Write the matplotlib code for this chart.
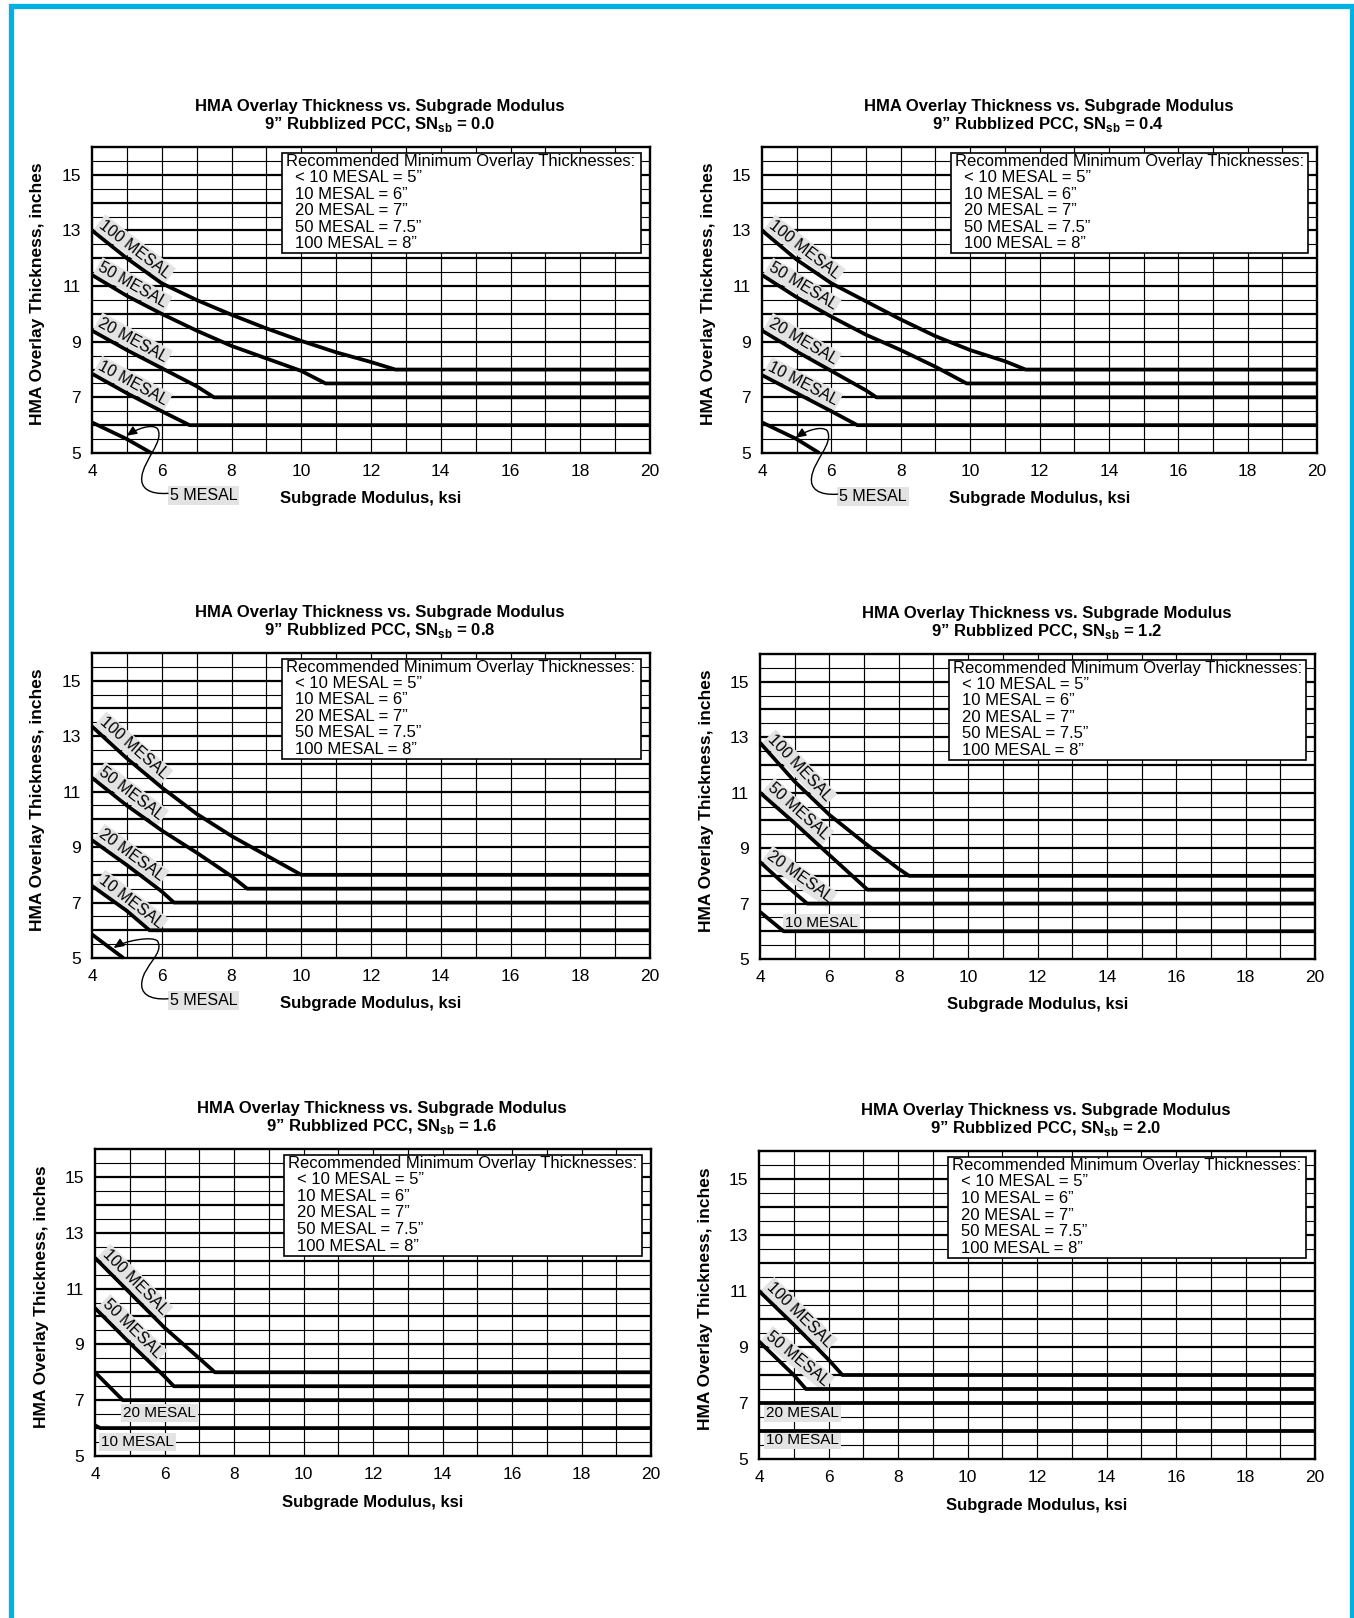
import numpy as np
import matplotlib
matplotlib.use('Agg')
import matplotlib.pyplot as plt
from matplotlib.patches import Rectangle, FancyArrowPatch
from matplotlib.path import Path

plt.rcParams['font.family'] = ['Liberation Sans', 'DejaVu Sans']
plt.rcParams['mathtext.fontset'] = 'custom'
plt.rcParams['mathtext.rm'] = 'Liberation Sans'
plt.rcParams['mathtext.bf'] = 'Liberation Sans:bold'

# ---- data ----
x_ticks = [4, 6, 8, 10, 12, 14, 16, 18, 20]
y_ticks = [5, 7, 9, 11, 13, 15]
sn_values = ['0.0', '0.4', '0.8', '1.2', '1.6', '2.0']

legend_title = 'Recommended Minimum Overlay Thicknesses:'
legend_lines = ['< 10 MESAL = 5\u201d', '10 MESAL = 6\u201d', '20 MESAL = 7\u201d',
                '50 MESAL = 7.5\u201d', '100 MESAL = 8\u201d']

# MESAL level -> (subgrade modulus ksi, overlay thickness in)
curves_00 = {
    100: ([4, 5, 6, 7, 8, 9, 10, 11, 12, 12.7, 20],
          [13.0, 12.0, 11.1, 10.5, 9.97, 9.48, 9.03, 8.62, 8.27, 8.0, 8.0]),
    50: ([4, 5, 6, 7, 8, 9, 10, 10.7, 20],
         [11.4, 10.65, 10.0, 9.4, 8.85, 8.4, 7.95, 7.5, 7.5]),
    20: ([4, 5, 6, 7, 7.5, 20], [9.4, 8.7, 8.05, 7.4, 7.0, 7.0]),
    10: ([4, 5, 6, 6.8, 20], [7.85, 7.15, 6.5, 6.0, 6.0]),
    5: ([4, 5, 5.7], [6.1, 5.5, 5.0]),
}
curves_04 = {
    100: ([4, 5, 6, 7, 8, 9, 10, 11, 11.6, 20],
          [13.0, 11.95, 11.1, 10.45, 9.8, 9.2, 8.7, 8.3, 8.0, 8.0]),
    50: ([4, 5, 6, 7, 8, 9, 9.9, 20], [11.4, 10.6, 9.9, 9.25, 8.7, 8.1, 7.5, 7.5]),
    20: ([4, 5, 6, 7, 7.3, 20], [9.4, 8.65, 7.95, 7.25, 7.0, 7.0]),
    10: ([4, 5, 6, 6.75, 20], [7.8, 7.15, 6.5, 6.0, 6.0]),
    5: ([4, 5, 5.65], [6.1, 5.5, 5.0]),
}
curves_08 = {
    100: ([4, 5, 6, 7, 8, 9, 10, 20], [13.35, 12.2, 11.15, 10.2, 9.4, 8.7, 8.0, 8.0]),
    50: ([4, 5, 6, 7, 8, 8.45, 20], [11.5, 10.5, 9.6, 8.8, 7.95, 7.5, 7.5]),
    20: ([4, 5, 6, 6.35, 20], [9.25, 8.35, 7.4, 7.0, 7.0]),
    10: ([4, 5, 5.65, 20], [7.6, 6.7, 6.0, 6.0]),
    5: ([4, 4.9], [5.85, 5.0]),
}
curves_12 = {
    100: ([4, 5, 6, 7, 8, 8.3, 20], [12.8, 11.4, 10.2, 9.2, 8.25, 8.0, 8.0]),
    50: ([4, 5, 6, 7.1, 20], [11.0, 9.9, 8.75, 7.5, 7.5]),
    20: ([4, 4.7, 5.36, 20], [8.5, 7.7, 7.0, 7.0]),
    10: ([4, 4.68, 20], [6.7, 6.0, 6.0]),
}
curves_16 = {
    100: ([4, 5, 6, 7, 7.45, 20], [12.1, 10.85, 9.6, 8.5, 8.0, 8.0]),
    50: ([4, 5, 6, 6.27, 20], [10.3, 9.05, 7.85, 7.5, 7.5]),
    20: ([4, 4.8, 20], [8.0, 7.0, 7.0]),
    10: ([4, 4.15, 20], [6.1, 6.0, 6.0]),
}
curves_20 = {
    100: ([4, 5, 6, 6.4, 20], [11.0, 9.8, 8.55, 8.0, 8.0]),
    50: ([4, 5, 5.35, 20], [9.2, 8.0, 7.5, 7.5]),
    20: ([4, 20], [7.0, 7.0]),
    10: ([4, 20], [6.0, 6.0]),
}
panel_curves = [curves_00, curves_04, curves_08, curves_12, curves_16, curves_20]

# ---- layout (pixel boxes: left, top, right, bottom) and label placement ----
W, H = 1354, 1618
panel_boxes = [(92, 147, 650, 453), (762, 147, 1317, 453),
               (92, 653, 650, 958), (760, 654, 1315, 959),
               (95, 1149, 651, 1456), (759, 1151, 1315, 1459)]
# None -> label along the curve, (x, y) -> horizontal label there
label_spots = [
    {100: None, 50: None, 20: None, 10: None},
    {100: None, 50: None, 20: None, 10: None},
    {100: None, 50: None, 20: None, 10: None},
    {100: None, 50: None, 20: None, 10: (4.72, 6.3)},
    {100: None, 50: None, 20: (4.8, 6.55), 10: (4.18, 5.5)},
    {100: None, 50: None, 20: (4.2, 6.65), 10: (4.2, 5.68)},
]
# 5 MESAL call-out: label position and arrow tip (data coords)
five_callout = [((6.23, 3.48), (4.99, 5.62)),
                ((6.23, 3.45), (4.97, 5.55)),
                ((6.23, 3.46), (4.62, 5.36)),
                None, None, None]

label_box = dict(boxstyle='square,pad=0.12', fc='#e3e3e3', ec='none')


def curve_label(ax, xs, ys, text, x0=4.06, span=1.6, lift=2.8):
    y0 = np.interp(x0, xs, ys)
    y1 = np.interp(x0 + span, xs, ys)
    p0 = ax.transData.transform((x0, y0))
    p1 = ax.transData.transform((x0 + span, y1))
    ang = np.degrees(np.arctan2(p1[1] - p0[1], p1[0] - p0[0]))
    t = np.radians(ang)
    ax.annotate(text, (x0, y0), xytext=(-np.sin(t) * lift, np.cos(t) * lift),
                textcoords='offset points', rotation=ang, rotation_mode='anchor',
                ha='left', va='bottom', fontsize=11.5, bbox=label_box, zorder=3)


def five_leader(ax, lab, tip):
    xl, yl = lab[0] - 0.05, lab[1] + 0.07
    xt, yt = tip
    verts = [(xl, yl),
             (xl - 0.55, yl - 0.05), (xl - 0.8, yl + 0.2), (xl - 0.75, yl + 0.6),
             (xl - 0.7, yl + 1.2), (xl - 0.1, yt - 0.2), (xl - 0.3, yt + 0.25),
             (xl - 0.45, yt + 0.45), (xt + 0.3, yt + 0.25), (xt, yt)]
    codes = [Path.MOVETO] + [Path.CURVE4] * 9
    arr = FancyArrowPatch(path=Path(verts, codes), arrowstyle='-|>,head_length=0.5,head_width=0.22',
                          mutation_scale=12, lw=1.0, color='black', clip_on=False, zorder=6)
    ax.add_patch(arr)
    ax.text(lab[0], lab[1], '5 MESAL', ha='left', va='center', fontsize=11.5,
            bbox=label_box, clip_on=False)


fig = plt.figure(figsize=(W / 100, H / 100), dpi=100)

for i, sn in enumerate(sn_values):
    l, t, r, b = panel_boxes[i]
    ax = fig.add_axes([l / W, 1 - b / H, (r - l) / W, (b - t) / H])
    ax.set_xlim(4, 20)
    ax.set_ylim(5, 16)

    # grid: every 1 ksi, every 0.5 in (integers heavier)
    for gx in range(5, 20):
        ax.axvline(gx, color='black', lw=0.85, zorder=1)
    for gy in np.arange(5.5, 16, 0.5):
        ax.axhline(gy, color='black', lw=1.6 if gy % 1 == 0 else 0.8, zorder=1)
    for s in ax.spines.values():
        s.set_linewidth(1.7)
        s.set_zorder(5)

    ax.set_xticks(x_ticks)
    ax.set_yticks(y_ticks)
    ax.tick_params(length=0, labelsize=12.5, pad=8)

    curves = panel_curves[i]
    for mesal, (xs, ys) in curves.items():
        ax.plot(xs, ys, color='black', lw=2.7, solid_capstyle='butt',
                solid_joinstyle='round', zorder=4, clip_on=False)

    for mesal, spot in label_spots[i].items():
        xs, ys = curves[mesal]
        if spot is None:
            curve_label(ax, xs, ys, f'{mesal} MESAL')
        else:
            ax.text(spot[0], spot[1], f'{mesal} MESAL', ha='left', va='center',
                    fontsize=11, bbox=label_box, zorder=3)

    if five_callout[i] is not None:
        five_leader(ax, *five_callout[i])

    # recommended minimum box
    ax.add_patch(Rectangle((0.34, 0.652), 0.643, 0.328, transform=ax.transAxes,
                           fc='white', ec='black', lw=1.2, zorder=6))
    ax.text(0.348, 0.954, legend_title, transform=ax.transAxes, fontsize=12,
            ha='left', va='center', zorder=7)
    for k, line in enumerate(legend_lines):
        ax.text(0.364, 0.954 - 0.054 * (k + 1), line, transform=ax.transAxes,
                fontsize=12, ha='left', va='center', zorder=7)

    ax.text(0.516, 1.118, 'HMA Overlay Thickness vs. Subgrade Modulus',
            transform=ax.transAxes, ha='center', va='baseline', fontsize=12,
            fontweight='bold')
    ax.text(0.516, 1.059, '9\u201d Rubblized PCC, SN$_{\\mathbf{sb}}$ = ' + sn,
            transform=ax.transAxes, ha='center', va='baseline', fontsize=12,
            fontweight='bold')
    ax.text(-0.097, 0.52, 'HMA Overlay Thickness, inches', transform=ax.transAxes,
            rotation=90, ha='center', va='center', fontsize=12.5, fontweight='bold')
    ax.text(0.5, -0.15, 'Subgrade Modulus, ksi', transform=ax.transAxes,
            ha='center', va='center', fontsize=12, fontweight='bold')

# cyan frame (open at the bottom)
fig.add_artist(Rectangle((10.7 / W, -0.02), (1351.5 - 10.7) / W, 1.02 - 6 / H,
                         transform=fig.transFigure, fill=False, ec='#00b1e1',
                         lw=3.8))

fig.savefig('out.png', dpi=100)
